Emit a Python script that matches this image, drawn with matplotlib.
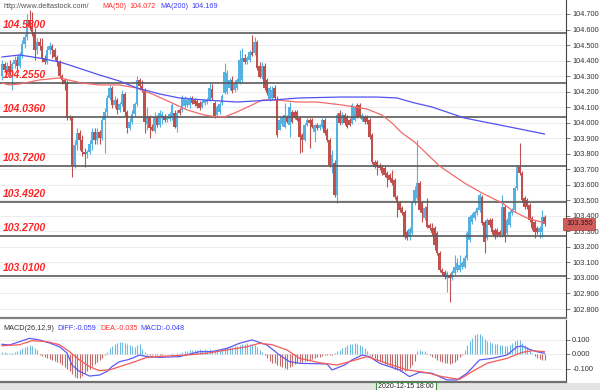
import numpy as np
import matplotlib
matplotlib.use("Agg")
import matplotlib.pyplot as plt
import matplotlib.transforms as mtransforms
from matplotlib.patches import Rectangle

plt.rcParams['font.family'] = ['Liberation Sans', 'DejaVu Sans']

# ---------------- data ----------------
opens = [
104.301,104.378,104.339,104.365,104.326,104.378,104.404,104.365,104.436,104.507,
104.552,104.661,104.623,104.584,104.468,104.520,104.494,104.416,104.391,104.468,
104.494,104.468,104.423,104.391,104.301,104.275,104.249,104.037,104.030,103.721,
103.856,103.933,103.888,103.811,103.798,103.811,103.863,103.940,103.888,103.940,
103.901,104.017,104.069,104.159,104.223,104.114,104.146,104.082,104.120,104.185,
104.069,103.966,104.004,104.056,104.120,104.275,104.236,104.210,103.991,104.037,
103.972,103.946,104.037,103.985,104.030,104.043,104.017,104.024,104.030,104.062,
103.972,104.082,104.082,104.107,104.114,104.114,104.159,104.146,104.140,104.127,
104.101,104.127,104.133,104.146,104.217,104.127,104.049,104.069,104.127,104.191,
104.198,104.223,104.275,104.210,104.223,104.262,104.275,104.416,104.391,104.404,
104.455,104.449,104.520,104.365,104.294,104.365,104.275,104.152,104.159,104.223,
104.146,103.953,103.991,103.972,104.037,103.985,104.069,104.069,104.069,104.030,
103.921,103.888,103.985,104.017,104.017,103.940,103.985,103.966,103.972,104.017,
103.953,103.888,103.727,103.740,103.534,104.062,103.998,104.049,104.037,104.017,
103.998,104.017,104.114,104.114,104.017,104.037,104.037,104.017,103.921,103.747,
103.747,103.727,103.715,103.708,103.676,103.663,103.644,103.631,103.521,103.483,
103.450,103.425,103.296,103.264,103.289,103.483,103.515,103.611,103.483,103.386,
103.457,103.341,103.322,103.322,103.289,103.161,103.051,103.038,103.000,103.019,
103.000,103.032,103.051,103.051,103.071,103.071,103.128,103.245,103.360,103.386,
103.418,103.438,103.521,103.360,103.257,103.373,103.373,103.309,103.309,103.296,
103.277,103.457,103.289,103.341,103.418,103.438,103.579,103.715,103.676,103.515,
103.502,103.470,103.386,103.360,103.322,103.296,103.296,103.393]

highs = [
104.404,104.391,104.391,104.404,104.391,104.429,104.429,104.455,104.532,104.571,
104.700,104.726,104.713,104.610,104.545,104.545,104.545,104.436,104.494,104.520,
104.507,104.481,104.436,104.404,104.313,104.288,104.275,104.049,104.043,103.888,
103.966,103.953,103.921,103.837,103.824,103.888,103.966,103.966,103.966,103.953,
104.043,104.094,104.178,104.243,104.236,104.172,104.159,104.133,104.210,104.198,
104.082,104.030,104.082,104.133,104.301,104.288,104.275,104.223,104.101,104.049,
103.991,104.069,104.049,104.082,104.075,104.056,104.043,104.069,104.127,104.082,
104.082,104.094,104.178,104.172,104.165,104.172,104.172,104.159,104.152,104.140,
104.146,104.152,104.159,104.255,104.249,104.140,104.114,104.133,104.185,104.384,
104.339,104.288,104.301,104.275,104.288,104.468,104.481,104.442,104.429,104.468,
104.565,104.552,104.532,104.391,104.391,104.384,104.288,104.236,104.236,104.243,
104.172,104.037,104.043,104.127,104.049,104.133,104.082,104.082,104.082,104.043,
103.933,103.998,104.030,104.030,104.030,103.991,103.998,103.991,104.030,104.030,
103.966,103.901,103.824,103.760,104.062,104.082,104.069,104.062,104.049,104.030,
104.127,104.107,104.127,104.127,104.062,104.049,104.049,104.030,103.933,103.760,
103.760,103.740,103.727,103.721,103.689,103.676,103.695,103.644,103.534,103.496,
103.463,103.438,103.309,103.328,103.496,103.592,103.888,103.624,103.496,103.463,
103.515,103.354,103.354,103.335,103.302,103.174,103.064,103.051,103.045,103.032,
103.051,103.148,103.128,103.148,103.109,103.148,103.302,103.405,103.418,103.438,
103.457,103.547,103.534,103.373,103.386,103.386,103.386,103.322,103.322,103.309,
103.534,103.470,103.386,103.438,103.450,103.592,103.727,103.869,103.689,103.528,
103.515,103.483,103.399,103.373,103.335,103.335,103.438,103.405]

lows = [
104.275,104.326,104.313,104.301,104.210,104.352,104.339,104.352,104.416,104.481,
104.532,104.597,104.558,104.404,104.442,104.468,104.391,104.378,104.378,104.442,
104.416,104.404,104.365,104.288,104.249,104.210,104.017,104.017,103.650,103.708,
103.824,103.824,103.785,103.715,103.772,103.798,103.824,103.863,103.863,103.863,
103.888,103.805,104.043,104.146,104.094,104.094,104.056,104.069,104.107,104.043,
103.933,103.953,103.991,104.043,104.107,104.210,104.198,103.933,103.953,103.901,
103.946,103.933,103.972,103.972,103.991,104.004,104.004,104.011,104.017,103.966,
103.940,104.049,104.069,104.094,104.101,104.094,104.120,104.107,104.094,104.082,
104.094,104.114,104.120,104.140,104.146,104.030,104.037,104.056,104.114,104.185,
104.185,104.210,104.191,104.198,104.210,104.249,104.262,104.378,104.378,104.391,
104.429,104.436,104.339,104.288,104.281,104.210,104.178,104.140,104.146,104.146,
103.908,103.950,103.979,103.966,103.998,103.908,103.998,104.024,104.011,103.805,
103.811,103.882,103.979,103.837,103.966,103.876,103.953,103.953,103.966,103.921,
103.876,103.715,103.676,103.521,103.482,103.985,103.991,103.985,103.966,103.979,
103.991,104.011,104.030,104.030,104.011,103.991,103.991,103.895,103.734,103.708,
103.663,103.695,103.663,103.650,103.586,103.618,103.599,103.508,103.393,103.425,
103.405,103.251,103.245,103.245,103.277,103.470,103.502,103.425,103.360,103.373,
103.322,103.309,103.277,103.180,103.148,103.038,103.019,102.993,102.910,102.845,
102.987,103.019,103.038,103.038,103.058,103.064,103.116,103.232,103.347,103.373,
103.405,103.425,103.341,103.161,103.245,103.328,103.283,103.251,103.264,103.264,
103.264,103.232,103.277,103.328,103.405,103.425,103.566,103.663,103.489,103.444,
103.444,103.360,103.309,103.257,103.283,103.257,103.264,103.335]

closes = [
104.378,104.339,104.365,104.326,104.378,104.404,104.365,104.436,104.507,104.552,
104.661,104.623,104.584,104.468,104.520,104.494,104.416,104.391,104.468,104.494,
104.468,104.423,104.391,104.301,104.275,104.249,104.037,104.030,103.721,103.856,
103.933,103.888,103.811,103.798,103.811,103.863,103.940,103.888,103.940,103.901,
104.017,104.069,104.159,104.223,104.114,104.146,104.082,104.120,104.185,104.069,
103.966,104.004,104.056,104.120,104.275,104.236,104.210,104.004,104.037,103.966,
103.953,104.037,103.985,104.062,104.056,104.017,104.037,104.056,104.114,103.972,
104.062,104.062,104.165,104.152,104.146,104.152,104.127,104.120,104.107,104.094,
104.133,104.146,104.146,104.223,104.159,104.043,104.101,104.120,104.172,104.326,
104.320,104.275,104.204,104.255,104.275,104.404,104.416,104.391,104.416,104.455,
104.436,104.520,104.352,104.294,104.365,104.223,104.191,104.223,104.210,104.159,
103.921,104.017,104.030,104.049,104.004,104.101,104.004,104.030,104.017,103.908,
103.888,103.985,104.017,103.998,103.972,103.985,103.966,103.985,104.017,103.933,
103.888,103.727,103.792,103.534,104.049,103.998,104.049,103.998,103.972,103.985,
104.114,104.101,104.037,104.037,104.049,104.004,104.004,103.908,103.747,103.715,
103.715,103.708,103.676,103.663,103.644,103.631,103.612,103.521,103.483,103.438,
103.418,103.264,103.257,103.315,103.483,103.566,103.611,103.438,103.418,103.450,
103.328,103.322,103.289,103.212,103.161,103.051,103.032,103.006,103.032,103.000,
103.038,103.071,103.096,103.083,103.096,103.128,103.289,103.393,103.405,103.425,
103.450,103.534,103.354,103.232,103.373,103.341,103.296,103.264,103.277,103.277,
103.457,103.264,103.373,103.425,103.438,103.579,103.715,103.676,103.502,103.457,
103.457,103.373,103.322,103.296,103.296,103.322,103.393,103.350]

# moving averages, read at sampled bars
ma50_idx = [0,3,7,15,23,32,39,47,54,61,68,74,81,86,89,94,100,104,110,118,126,136,
            146,152,156,160,165,175,185,192,200,205,210,217]
ma50_val = [104.255,104.243,104.249,104.275,104.288,104.255,104.243,104.243,104.223,
            104.178,104.127,104.082,104.049,104.037,104.037,104.069,104.114,104.146,
            104.146,104.133,104.133,104.114,104.088,104.049,103.998,103.933,103.876,
            103.721,103.611,103.547,103.483,103.425,103.386,103.354]
ma200_idx = [0,7,15,23,27,39,47,54,63,71,81,94,108,119,135,150,158,165,172,185,195,205,217]
ma200_val = [104.423,104.436,104.416,104.391,104.371,104.307,104.268,104.223,104.185,
             104.159,104.146,104.133,104.146,104.159,104.165,104.165,104.159,104.127,
             104.101,104.030,103.998,103.966,103.927]

# MACD(26,12,9)
diff_idx = [0,3,7,11,15,19,23,26,28,31,35,39,42,44,47,50,52,55,58,63,71,79,84,90,95,
            100,106,111,115,119,130,132,137,140,144,147,151,159,163,167,172,178,182,
            186,191,196,202,206,208,211,214,217]
diff_val = [0.067,0.062,0.085,0.108,0.097,0.076,0.050,0.007,-0.076,-0.120,-0.152,-0.145,
            -0.120,-0.087,-0.053,-0.041,-0.030,-0.007,-0.018,-0.023,-0.018,0.016,0.016,
            0.039,0.074,0.097,0.062,-0.007,-0.053,-0.064,-0.069,-0.110,-0.076,-0.041,
            -0.007,-0.018,-0.064,-0.110,-0.156,-0.126,-0.133,-0.179,-0.179,-0.133,-0.041,
            -0.030,-0.007,0.050,0.055,0.032,0.016,0.005]
dea_idx = [0,7,12,18,23,27,31,35,39,43,47,52,58,66,74,82,90,98,103,108,114,119,127,
           134,139,146,152,162,170,176,183,188,194,202,208,212,217]
dea_val = [0.057,0.064,0.092,0.085,0.064,0.016,-0.041,-0.087,-0.115,-0.110,-0.087,
           -0.060,-0.023,-0.014,-0.007,0.005,0.028,0.050,0.074,0.064,0.028,-0.030,
           -0.060,-0.076,-0.053,-0.018,-0.053,-0.110,-0.129,-0.156,-0.175,-0.122,
           -0.064,-0.030,0.011,0.023,0.016]
macd_hist = [
0.015,0.012,0.010,0.008,0.010,0.015,0.022,0.030,0.040,0.050,0.058,0.062,0.055,0.040,0.025,
-0.005,-0.012,-0.020,-0.028,-0.035,-0.040,-0.048,-0.055,-0.065,-0.076,-0.090,-0.105,-0.120,
-0.140,-0.160,-0.168,-0.165,-0.150,-0.130,-0.115,-0.100,-0.085,-0.070,-0.055,-0.040,-0.025,-0.010,
0.016,0.040,0.055,0.068,0.078,0.085,0.080,0.074,0.066,0.060,0.054,0.050,0.062,0.070,0.035,0.012,
-0.008,-0.010,-0.008,-0.006,-0.006,-0.004,-0.004,-0.003,-0.002,0.002,0.004,0.003,0.005,0.008,
0.015,0.020,0.022,0.025,0.025,0.028,0.030,0.032,0.030,0.032,0.030,0.034,0.030,0.025,0.024,0.026,
0.030,0.040,0.046,0.050,0.048,0.055,0.058,0.064,0.070,0.072,0.074,0.070,0.066,0.060,0.048,0.030,
0.012,-0.010,-0.030,-0.045,-0.060,-0.065,-0.075,-0.085,-0.090,-0.095,-0.100,-0.092,-0.080,-0.072,
-0.065,-0.058,-0.052,-0.050,-0.048,-0.040,-0.032,-0.028,-0.024,-0.020,-0.015,-0.010,-0.008,
-0.005,-0.004,0.004,
0.018,0.030,0.040,0.050,0.060,0.066,0.072,0.075,0.070,0.065,0.055,0.040,0.018,
-0.010,-0.020,-0.030,-0.040,-0.050,-0.058,-0.066,-0.075,-0.085,-0.093,-0.100,-0.110,-0.120,
-0.120,-0.115,-0.110,-0.095,-0.075,-0.045,
0.020,0.025,0.022,0.020,0.010,
-0.008,-0.020,-0.030,-0.040,-0.050,-0.057,-0.062,-0.065,-0.066,-0.064,-0.055,-0.040,-0.022,-0.008,
0.030,0.060,0.090,0.110,0.128,0.136,0.140,0.125,0.105,0.090,0.082,0.076,0.072,0.068,0.065,
0.060,0.058,0.055,0.062,0.075,0.088,0.100,0.095,0.078,0.062,0.048,0.030,0.006,
-0.015,-0.025,-0.032,-0.038,-0.040]

sr_levels = [104.58, 104.255, 104.036, 103.72, 103.492, 103.27, 103.01]
price_ticks = [102.8, 102.9, 103.0, 103.1, 103.2, 103.3, 103.4, 103.5, 103.6, 103.7,
               103.8, 103.9, 104.0, 104.1, 104.2, 104.3, 104.4, 104.5, 104.6, 104.7]
macd_ticks = [0.1, 0.0, -0.1]
last_price = 103.350

# ---------------- figure ----------------
W, H = 600, 390
fig = plt.figure(figsize=(6, 3.9), dpi=100)
fig.patch.set_facecolor('white')

def fx(px):
    return px / W

def fy(py):
    return 1 - py / H

plot_w = 566
ax = fig.add_axes([0, fy(318), fx(plot_w), 318 / H])
axm = fig.add_axes([0, fy(382), fx(plot_w), 62 / H])

n = len(closes)
xs = np.arange(n)
px_per_bar = 2.5
xlim = (-2 / px_per_bar, (plot_w - 2) / px_per_bar)

o = np.array(opens); c = np.array(closes); h = np.array(highs); l = np.array(lows)
up = c >= o
col_up = '#56b1e3'
col_dn = '#c0504d'
colors = np.where(up, col_up, col_dn)

# grid
for t in price_ticks:
    ax.axhline(t, color='#ededed', lw=0.8, zorder=0)

# candles
ax.vlines(xs, l, h, colors=colors, lw=0.8, zorder=2)
body = c - o
body = np.where(np.abs(body) < 0.004, np.where(body >= 0, 0.004, -0.004), body)
ax.bar(xs, body, bottom=o, width=0.85, color=colors, linewidth=0, zorder=2.1)

# support / resistance lines with labels
lbl_trans = mtransforms.offset_copy(
    mtransforms.blended_transform_factory(ax.transAxes, ax.transData),
    fig=fig, x=0, y=3, units='dots')
for lv in sr_levels:
    ax.axhline(lv, color='#5a5a5a', lw=1.2, zorder=3)
    ax.text(3 / plot_w, lv, f"{lv:.4f}", transform=lbl_trans, ha='left', va='bottom',
            color='#ff2424', fontsize=7.5, fontweight='bold', fontstyle='italic', zorder=5)

# moving averages
ax.plot(ma50_idx, ma50_val, color='#f26a6a', lw=0.9, zorder=4)
ax.plot(ma200_idx, ma200_val, color='#5252f0', lw=0.9, zorder=4)

ax.set_xlim(*xlim)
ax.set_ylim(104.790 - 318 * 0.00644, 104.790)
ax.set_xticks([])
ax.yaxis.tick_right()
ax.set_yticks(price_ticks)
ax.set_yticklabels([f"{t:.3f}" for t in price_ticks])
ax.tick_params(axis='y', direction='out', length=3, width=0.6, color='#666666',
               labelsize=5.3, labelcolor='#333333', pad=1.5)
for s in ('top', 'left'):
    ax.spines[s].set_visible(False)
ax.spines['right'].set_color('#444444'); ax.spines['right'].set_linewidth(0.8)
ax.spines['bottom'].set_color('#808080'); ax.spines['bottom'].set_linewidth(1.6)

# last price box
ax.text(1.0, last_price, f"{last_price:.3f}",
        transform=mtransforms.blended_transform_factory(ax.transAxes, ax.transData),
        ha='left', va='center', fontsize=5.3, color='#222222', zorder=10, clip_on=False,
        bbox=dict(boxstyle='square,pad=0.35', fc='#d05c5c', ec='#b03a3a', lw=0.5))

# ---------------- MACD panel ----------------
for t in macd_ticks:
    axm.axhline(t, color='#ededed', lw=0.8, zorder=0)
hist = np.array(macd_hist)
hcol = np.where(hist >= 0, '#6dbbe3', '#c46a6a')
axm.vlines(xs, 0, hist, colors=hcol, lw=0.8, zorder=2)
axm.plot(diff_idx, diff_val, color='#5a5af5', lw=0.9, zorder=3)
axm.plot(dea_idx, dea_val, color='#f55a5a', lw=0.9, zorder=3)
axm.set_xlim(*xlim)
axm.set_ylim((354 - 382) / 145, (354 - 320) / 145)
axm.set_xticks([])
axm.yaxis.tick_right()
axm.set_yticks(macd_ticks)
axm.set_yticklabels([f"{t:.3f}" for t in macd_ticks])
axm.tick_params(axis='y', direction='out', length=3, width=0.6, color='#666666',
                labelsize=5.3, labelcolor='#333333', pad=1.5)
for s in ('top', 'left'):
    axm.spines[s].set_visible(False)
axm.spines['right'].set_color('#444444'); axm.spines['right'].set_linewidth(0.8)
axm.spines['bottom'].set_color('#707070'); axm.spines['bottom'].set_linewidth(1.6)

# bottom strip
fig.patches.append(Rectangle((0, 0), 1, 7 / H, transform=fig.transFigure,
                             fc='#e4e4e4', ec='none', zorder=-1))
fig.text(fx(406), fy(387), "2020-12-15 18:00", ha='center', va='center', fontsize=5,
         color='#222222',
         bbox=dict(boxstyle='square,pad=0.25', fc='white', ec='#3f8f3f', lw=0.8))

# headers
hdr_y = fy(6)
hs = 5.2
fig.text(fx(3), hdr_y, "http://www.deltastock.com/", fontsize=hs, color='#555555', va='center')
fig.text(fx(102), hdr_y, "MA(50)", fontsize=hs, color='#ff3030', va='center')
fig.text(fx(129), hdr_y, "104.072", fontsize=hs, color='#ff3030', va='center')
fig.text(fx(160), hdr_y, "MA(200)", fontsize=hs, color='#3a3aff', va='center')
fig.text(fx(191), hdr_y, "104.169", fontsize=hs, color='#3a3aff', va='center')

m_y = fy(329)
fig.text(fx(3), m_y, "MACD(26,12,9)", fontsize=hs, color='#333333', va='center')
fig.text(fx(57), m_y, "DIFF:-0.059", fontsize=hs, color='#3a3aff', va='center')
fig.text(fx(100), m_y, "DEA:-0.035", fontsize=hs, color='#ff3030', va='center')
fig.text(fx(140), m_y, "MACD:-0.048", fontsize=hs, color='#3a3aff', va='center')

fig.savefig("out.png", dpi=100, facecolor='white')
